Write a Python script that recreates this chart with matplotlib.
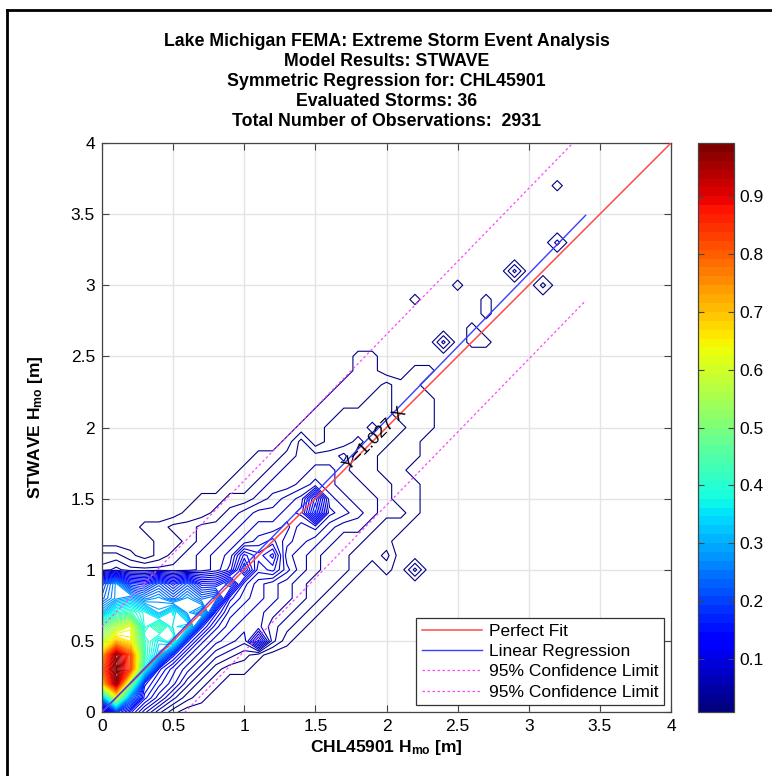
import numpy as np
import matplotlib
matplotlib.use("Agg")
import matplotlib.pyplot as plt
from matplotlib.colors import Normalize, ListedColormap
from matplotlib.cm import ScalarMappable
from matplotlib.lines import Line2D

plt.rcParams['font.family'] = ['Liberation Sans', 'DejaVu Sans']
plt.rcParams['mathtext.fontset'] = 'custom'
plt.rcParams['mathtext.rm'] = 'Liberation Sans'
plt.rcParams['mathtext.bf'] = 'Liberation Sans:bold'

# ---- data -------------------------------------------------------------
title_lines = [
    "Lake Michigan FEMA: Extreme Storm Event Analysis",
    "Model Results: STWAVE",
    "Symmetric Regression for: CHL45901",
    "Evaluated Storms: 36",
    "Total Number of Observations:  2931",
]
x_label = r"CHL45901 $\mathbf{H_{mo}}$ [m]"
y_label = r"STWAVE $\mathbf{H_{mo}}$ [m]"
tick_values = [0, 0.5, 1, 1.5, 2, 2.5, 3, 3.5, 4]
tick_labels = ['0', '0.5', '1', '1.5', '2', '2.5', '3', '3.5', '4']
cbar_ticks = [0.1, 0.2, 0.3, 0.4, 0.5, 0.6, 0.7, 0.8, 0.9]

bin_size = 0.1          # m, histogram cell
n_nodes = 41            # 0.0 .. 4.0 m

# observation counts per cell: row (STWAVE Hmo / 0.1) -> (first CHL45901 column, counts)
count_rows = {
    0:  (0,  [2, 14, 10, 6, 3, 1]),
    1:  (0,  [22, 48, 20, 10, 7, 4, 2, 1]),
    2:  (0,  [55, 78, 42, 12, 9, 7, 4, 2, 1]),
    3:  (0,  [64, 80, 66, 30, 11, 8, 6, 4, 2, 1, 1]),
    4:  (0,  [58, 78, 66, 34, 26, 12, 8, 6, 4, 3, 2, 1]),
    5:  (0,  [45, 56, 52, 34, 28, 33, 12, 8, 6, 5, 4, 10, 3, 1]),
    6:  (0,  [38, 45, 50, 30, 36, 28, 30, 12, 8, 6, 5, 5, 3, 2, 1]),
    7:  (0,  [24, 32, 34, 30, 24, 30, 22, 26, 11, 7, 6, 5, 4, 3, 2, 1]),
    8:  (0,  [18, 22, 24, 20, 22, 18, 22, 18, 20, 9, 7, 6, 5, 4, 3, 2, 1]),
    9:  (0,  [16, 22, 14, 13, 17, 13, 17, 12, 12, 16, 8, 6, 5, 4, 3, 2, 2, 1]),
    10: (0,  [3, 4, 3, 3, 3, 3, 3, 4, 5, 7, 14, 8, 9, 6, 4, 3, 2, 2, 1]),
    11: (0,  [2, 2, 1, 0, 1, 2, 3, 4, 5, 6, 11, 9, 11, 5, 4, 3, 2, 2, 1, 1, 1]),
    12: (4,  [1, 1, 2, 3, 4, 5, 6, 7, 8, 6, 5, 4, 3, 2, 2, 1, 1]),
    13: (3,  [1, 1, 2, 2, 3, 3, 4, 5, 6, 6, 7, 5, 6, 4, 3, 3, 2, 1, 1]),
    14: (6,  [1, 1, 2, 3, 4, 5, 5, 6, 7, 14, 6, 5, 4, 3, 2, 2, 1]),
    15: (7,  [1, 1, 2, 2, 3, 4, 5, 6, 12, 5, 4, 3, 3, 2, 1, 1]),
    16: (9,  [1, 1, 2, 3, 3, 4, 5, 4, 3, 3, 2, 2, 1, 1]),
    17: (10, [1, 1, 2, 3, 3, 4, 4, 3, 2, 2, 1, 1]),
    18: (11, [1, 1, 2, 3, 3, 3, 4, 2, 2, 1, 1, 1]),
    19: (13, [1, 3, 1, 2, 2, 3, 2, 2, 1, 1]),
    20: (14, [1, 1, 2, 2, 2, 3, 2, 2, 1, 1]),
    21: (15, [1, 1, 2, 2, 2, 2, 1, 1, 1]),
    22: (16, [1, 1, 1, 2, 2, 1, 1, 1]),
    23: (17, [1, 1, 1, 2, 1, 1]),
    24: (18, [1, 1, 0, 0, 1, 1]),
    25: (18, [1, 1]),
    26: (24, [3, 0, 1, 1]),
    27: (26, [1]),
    28: (27, [1]),
    29: (22, [1, 0, 0, 0, 0, 1]),
    30: (25, [1, 0, 0, 0, 0, 0, 2]),
    31: (29, [3]),
    33: (32, [2]),
    37: (32, [1]),
}

# isolated cells below the main band: (CHL45901 Hmo, STWAVE Hmo, count)
extra_x = [2.0, 2.0, 2.2]
extra_y = [1.0, 1.1, 1.0]
extra_n = [1, 1, 3]

reg_slope = 1.027
conf_offset = 0.6
fit_x_end = 3.4
axis_max = 4.0

# ---- grid ---------------------------------------------------------------
counts = np.zeros((n_nodes, n_nodes))
for j, (i0, vals) in count_rows.items():
    counts[j, i0:i0 + len(vals)] = vals
for xe, ye, ne in zip(extra_x, extra_y, extra_n):
    counts[int(round(ye / bin_size)), int(round(xe / bin_size))] += ne
Z = counts / counts.max()
g = np.arange(n_nodes) * bin_size
X, Y = np.meshgrid(g, g)

cmin, cmax = 0.008, 0.992
levels = np.linspace(cmin, cmax, 80)
jet64 = ListedColormap(plt.get_cmap('jet')(np.linspace(0, 1, 64)))
norm = Normalize(cmin, cmax)

# ---- figure -------------------------------------------------------------
W, H = 772, 776
fig = plt.figure(figsize=(W / 100, H / 100), dpi=100)
ax = fig.add_axes([102 / W, 1 - 712 / H, 569 / W, 569 / H])

ax.grid(True, color='#e4e4e4', linewidth=1.0, zorder=0)
ax.set_axisbelow(True)
ax.contour(X, Y, Z, levels=levels, cmap=jet64, norm=norm, linewidths=0.8, zorder=2)

xx = np.array([0.0, fit_x_end])
ax.plot([0, axis_max], [0, axis_max], color='#ff4a4a', lw=1.1, zorder=3, label='Perfect Fit')
ax.plot(xx, reg_slope * xx, color='#3c3cff', lw=1.0, zorder=3, label='Linear Regression')
ax.plot(xx, reg_slope * xx + conf_offset, color='#ff44ff', lw=0.9, ls=(0, (2, 2)),
        zorder=3, label='95% Confidence Limit')
ax.plot(xx, reg_slope * xx - conf_offset, color='#ff44ff', lw=0.9, ls=(0, (2, 2)),
        zorder=3, label='95% Confidence Limit')

ax.text(1.92, 1.92, f"Y={reg_slope} X", rotation=45, ha='center', va='center',
        fontsize=12.5, color='black', zorder=4)

ax.set_xlim(0, axis_max)
ax.set_ylim(0, axis_max)
ax.set_xticks(tick_values)
ax.set_yticks(tick_values)
ax.set_xticklabels(tick_labels)
ax.set_yticklabels(tick_labels)
ax.tick_params(direction='in', length=5, width=0.8, color='#444444',
               top=True, right=True, labelsize=12.5, pad=5)
for s in ax.spines.values():
    s.set_color('#444444')
    s.set_linewidth(0.9)

ax.set_xlabel(x_label, fontsize=12.5, fontweight='bold')
ax.set_ylabel(y_label, fontsize=12.5, fontweight='bold')
ax.xaxis.set_label_coords(0.5, -0.045)
ax.yaxis.set_label_coords(-0.1, 0.5)

leg = ax.legend(loc='lower right', fontsize=12.5, frameon=True, fancybox=False,
                edgecolor='#333333', framealpha=1, handlelength=3.5,
                borderpad=0.3, labelspacing=0.3, handletextpad=0.4,
                borderaxespad=0.4)
leg.get_frame().set_linewidth(0.9)

for k, line in enumerate(title_lines):
    fig.text(386.5 / W, 1 - (42 + 20 * k) / H, line, ha='center', va='center',
             fontsize=12.8, fontweight='bold')

# colour bar
cax = fig.add_axes([698 / W, 1 - 712 / H, 36 / W, 569 / H])
cb = fig.colorbar(ScalarMappable(norm=norm, cmap=jet64), cax=cax)
cb.set_ticks(cbar_ticks)
cb.set_ticklabels([f"{v:.1f}" for v in cbar_ticks])
cax.tick_params(direction='in', length=4, width=0.8, color='#444444',
                left=True, right=True, labelsize=12.5, pad=4)
cb.outline.set_edgecolor('#444444')
cb.outline.set_linewidth(0.9)

# page border
fig.add_artist(Line2D([7 / W, 7 / W], [0, 1 - 10 / H], color='black', lw=2))
fig.add_artist(Line2D([7 / W, 1], [1 - 10 / H, 1 - 10 / H], color='black', lw=2))

fig.savefig('out.png', dpi=100)
